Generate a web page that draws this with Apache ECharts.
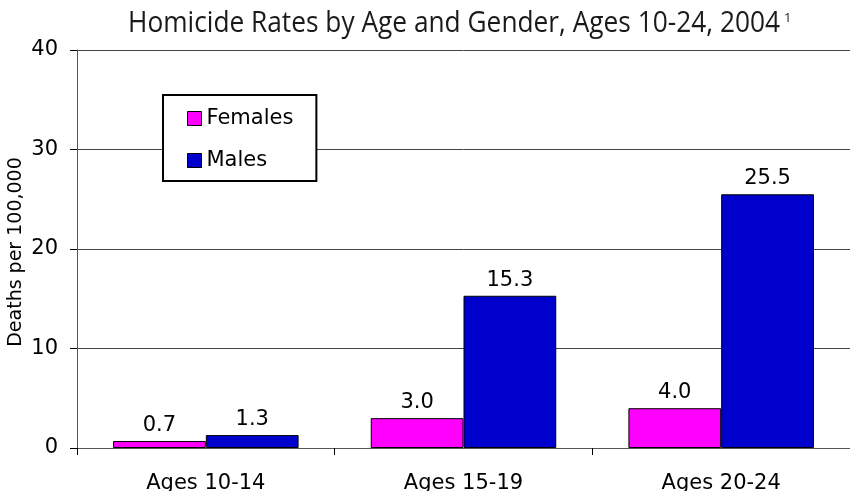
<!DOCTYPE html>
<html>
<head>
<meta charset="utf-8">
<script src="https://cdn.jsdelivr.net/npm/echarts@6/dist/echarts.min.js"></script>
<style>
  html, body { margin: 0; padding: 0; background: #fff; }
  #chart { width: 850px; height: 491px; }
</style>
</head>
<body>
<div id="chart"></div>
<script>
// Homicide rates per 100,000, by age group and gender (2004)
const ageGroups = ['Ages 10-14', 'Ages 15-19', 'Ages 20-24'];
const femaleRates = [0.7, 3.0, 4.0];
const maleRates = [1.3, 15.3, 25.5];
const yTicks = [0, 10, 20, 30, 40];

const titleText = 'Homicide Rates by Age and Gender, Ages 10-24, 2004';
const titleNote = '1';
const yAxisTitle = 'Deaths per 100,000';

const chart = echarts.init(document.getElementById('chart'), null, { renderer: 'canvas' });

const labelFont = 'DejaVu Sans';
const labelSize = 21;

// The title face is a condensed humanist sans; squeeze Open Sans to the same run length.
const titleFont = '29px "Open Sans"';
const measureCtx = document.createElement('canvas').getContext('2d');
measureCtx.font = titleFont;
const titleScale = 652 / measureCtx.measureText(titleText).width;

function barSeries(name, data, color) {
  return {
    name: name,
    type: 'bar',
    data: data,
    barGap: '0%',
    barCategoryGap: '28%',
    itemStyle: { color: color, borderColor: '#000', borderWidth: 1 },
    label: {
      show: true,
      position: 'top',
      distance: 5,
      fontFamily: labelFont,
      fontSize: labelSize,
      color: '#000',
      formatter: p => p.value.toFixed(1)
    }
  };
}

chart.setOption({
  animation: false,
  backgroundColor: '#fff',
  graphic: [
    {
      type: 'text',
      x: 128,
      y: 24,
      scaleX: titleScale,
      style: {
        text: titleText,
        font: titleFont,
        fill: '#1a1a1a',
        align: 'left',
        verticalAlign: 'middle'
      }
    },
    {
      type: 'text',
      x: 784,
      y: 18,
      style: {
        text: titleNote,
        font: '13px "Open Sans"',
        fill: '#1a1a1a',
        align: 'left',
        verticalAlign: 'middle'
      }
    },
    {
      // vertical axis title, reading bottom to top
      type: 'text',
      x: 16,
      y: 252,
      rotation: Math.PI / 2,
      style: {
        text: yAxisTitle,
        font: '19px "DejaVu Sans"',
        fill: '#000',
        align: 'center',
        verticalAlign: 'middle'
      }
    }
  ],
  legend: {
    orient: 'vertical',
    left: 163,
    top: 95,
    padding: [13, 23, 10, 24],
    itemGap: 21,
    itemWidth: 14,
    itemHeight: 14,
    borderColor: '#000',
    borderWidth: 2,
    backgroundColor: '#fff',
    icon: 'rect',
    textStyle: { fontFamily: labelFont, fontSize: labelSize, color: '#000' },
    itemStyle: { borderColor: '#000', borderWidth: 1 },
    data: ['Females', 'Males']
  },
  grid: { left: 77, right: 0, top: 50, bottom: 43, outerBoundsMode: 'none', containLabel: false },
  xAxis: {
    type: 'category',
    data: ageGroups,
    axisLine: { lineStyle: { color: '#555', width: 1 } },
    axisTick: { show: true, length: 7, lineStyle: { color: '#000' } },
    axisLabel: { fontFamily: labelFont, fontSize: labelSize, color: '#000', margin: 25 }
  },
  yAxis: {
    type: 'value',
    min: yTicks[0],
    max: yTicks[yTicks.length - 1],
    interval: 10,
    axisLine: { show: true, lineStyle: { color: '#555', width: 1 } },
    axisTick: { show: true, length: 7, lineStyle: { color: '#000' } },
    axisLabel: { fontFamily: labelFont, fontSize: labelSize, color: '#000', margin: 19 },
    splitLine: { show: true, lineStyle: { color: '#444', width: 1 } }
  },
  series: [
    barSeries('Females', femaleRates, '#FF00FF'),
    barSeries('Males', maleRates, '#0000CC')
  ]
});
</script>
</body>
</html>
